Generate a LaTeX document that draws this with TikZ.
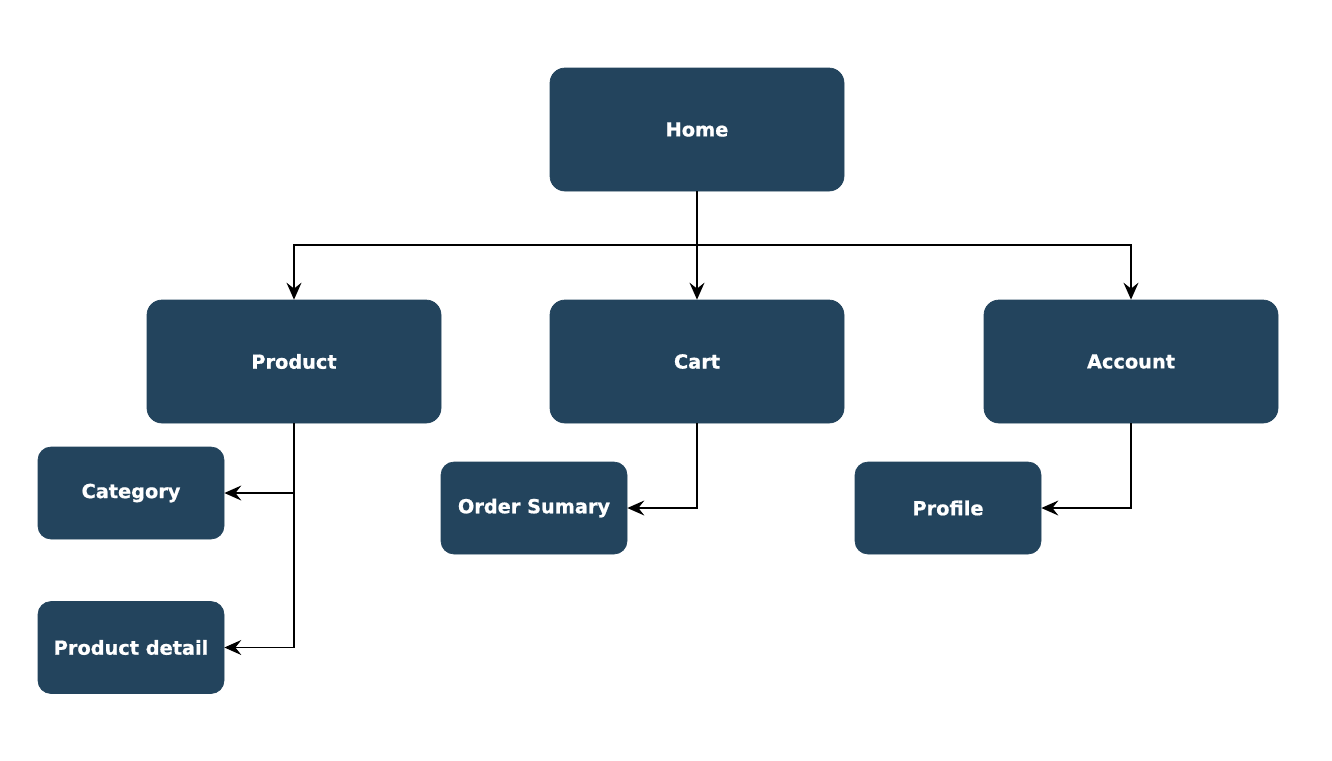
\documentclass[tikz,border=0pt]{standalone}
\usepackage{fontspec}
\setmainfont{DejaVu Sans}
\newfontfamily\boxfont[FakeBold=0.8]{DejaVu Sans Bold}
\usetikzlibrary{arrows.meta}
\definecolor{pagebox}{HTML}{23445D}

\begin{document}
\begin{tikzpicture}[
	page/.style={rectangle,rounded corners=0.3cm,fill=pagebox,draw=pagebox,text=white,font=\fontsize{11}{13}\selectfont\boxfont,minimum width=5.88cm,minimum height=2.46cm,inner sep=0pt},
	subpage/.style={page,rounded corners=0.26cm,minimum width=3.72cm,minimum height=1.84cm},
	link/.style={-{Stealth[length=3.4mm,width=3mm,inset=1.2mm]},line width=0.8pt}
	]

	\useasboundingbox (0,0) rectangle (26.64,-15.2);

	% top level
	\node[page] (home) at (13.94,-2.59) {Home};

	% sections
	\node[page] (product) at (5.88,-7.23) {Product};
	\node[page] (cart) at (13.94,-7.23) {Cart};
	\node[page] (account) at (22.62,-7.23) {Account};

	% sub pages
	\node[subpage] (category) at (2.62,-9.86) {Category};
	\node[subpage] (detail) at (2.62,-12.95) {Product detail};
	\node[subpage] (order) at (10.68,-10.16) {Order Sumary};
	\node[subpage] (profile) at (18.96,-10.16) {Profile};

	\coordinate (split) at (13.94,-4.9);

	\draw[line width=0.8pt] (home.south) -- (split);
	\draw[link] (split) -| (product.north);
	\draw[link] (split) -- (cart.north);
	\draw[link] (split) -| (account.north);

	\draw[link] (product.south) |- (category.east);
	\draw[link] (product.south) |- (detail.east);
	\draw[link] (cart.south) |- (order.east);
	\draw[link] (account.south) |- (profile.east);

\end{tikzpicture}
\end{document}
